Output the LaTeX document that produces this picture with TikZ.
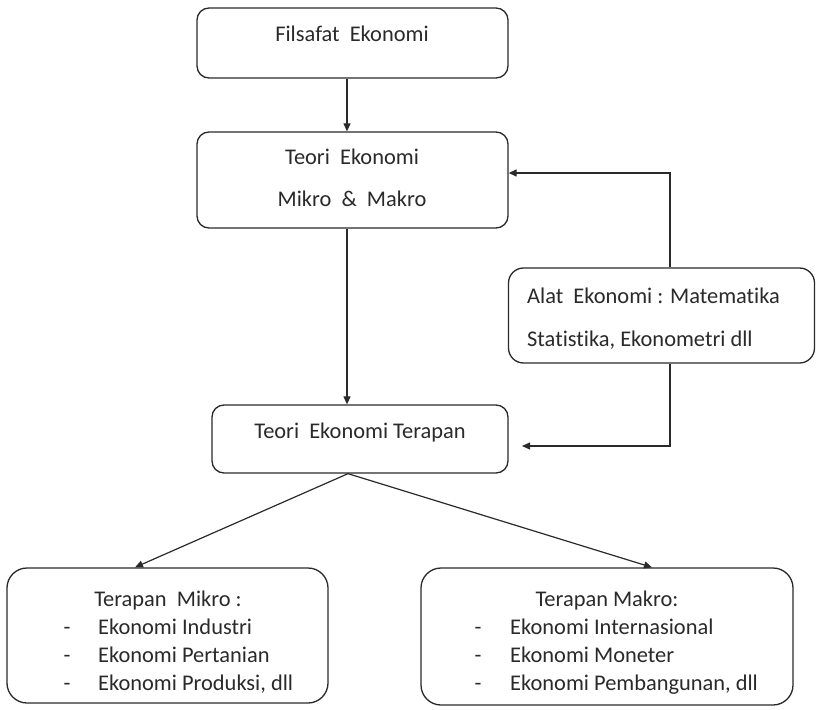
\documentclass[tikz,border=0pt]{standalone}
\usepackage{fontspec}
\setmainfont{Carlito}[Ligatures={NoCommon}]
\usetikzlibrary{arrows.meta}
\definecolor{ink}{HTML}{2A2A2A}
\begin{document}
\begin{tikzpicture}[x=1bp,y=-1bp,
  box/.style={draw=ink, line width=1.3bp, rounded corners=#1, inner sep=0pt, fill=white},
  box/.default=12bp,
  txt/.style={text=ink, font=\fontsize{22.5}{26}\selectfont, inner sep=0pt, text height=0.68em, text depth=0.2em, yshift=-4bp},
  arr/.style={draw=ink, line width=1.2bp, -{Triangle[length=8bp,width=7bp]}}
]
\fill[white] (0,0) rectangle (816,710);
\useasboundingbox (0,0) rectangle (816,710);

% boxes
\node[box, minimum width=311bp, minimum height=70bp] (b1) at (352.5,43) {};
\node[box, minimum width=311bp, minimum height=96bp] (b2) at (352.5,180) {};
\node[box, minimum width=296bp, minimum height=68bp] (b3) at (360,439) {};
\node[box=15bp, minimum width=306bp, minimum height=95bp] (alat) at (661.5,315.5) {};
\node[box=20bp, minimum width=321bp, minimum height=135bp] (mikro) at (167.5,635.5) {};
\node[box=20bp, minimum width=372bp, minimum height=137bp] (makro) at (607,636.5) {};

% texts
\node[txt] (t1) at (352,35) {Filsafat\ \ Ekonomi};
\node[txt] (t2a) at (352,158) {Teori\ \ Ekonomi};
\node[txt] (t2b) at (352,200) {Mikro\ \ \&\ \ Makro};
\node[txt] (t3) at (360,432) {Teori\ \ Ekonomi Terapan};
\node[txt, anchor=west] (ta1) at (527,297) {Alat\ \ Ekonomi : Matematika};
\node[txt, anchor=west] (ta2) at (527,340) {Statistika, Ekonometri dll};

\node[txt] (mt) at (168,600) {Terapan\ \ Mikro :};
\node[txt] (md1) at (67,628) {-};
\node[txt] (md2) at (67,656) {-};
\node[txt] (md3) at (67,684) {-};
\node[txt, anchor=west] (m1) at (98,628) {Ekonomi Industri};
\node[txt, anchor=west] (m2) at (98,656) {Ekonomi Pertanian};
\node[txt, anchor=west] (m3) at (98,684) {Ekonomi Produksi, dll};

\node[txt] (kt) at (607,600) {Terapan Makro:};
\node[txt] (kd1) at (478,628) {-};
\node[txt] (kd2) at (478,656) {-};
\node[txt] (kd3) at (478,684) {-};
\node[txt, anchor=west] (k1) at (510,628) {Ekonomi Internasional};
\node[txt, anchor=west] (k2) at (510,656) {Ekonomi Moneter};
\node[txt, anchor=west] (k3) at (510,684) {Ekonomi Pembangunan, dll};

% connectors
\draw[arr] ([xshift=-5.5bp]b1.south) -- ([xshift=-5.5bp]b2.north);
\draw[arr] ([xshift=-5.5bp]b2.south) -- ([xshift=-5.5bp]b2.south |- b3.north);
\draw[arr] ([xshift=8.5bp]alat.north) |- ([yshift=7bp]b2.east);
\coordinate (fb) at (522,446);
\draw[arr] ([xshift=8.5bp]alat.south) |- (fb);
\draw[arr] ([xshift=-12bp]b3.south) -- ([xshift=-32.5bp]mikro.north);
\draw[arr] ([xshift=-12bp]b3.south) -- ([xshift=45bp]makro.north);
\end{tikzpicture}
\end{document}
